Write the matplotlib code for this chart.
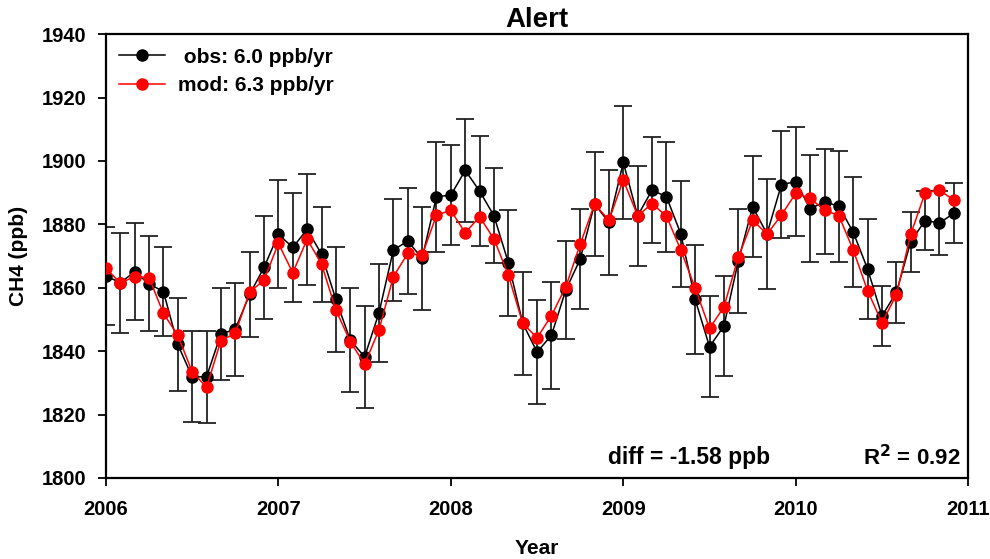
import numpy as np
import matplotlib
matplotlib.use("Agg")
import matplotlib.pyplot as plt

plt.rcParams['font.family'] = ['Liberation Sans', 'DejaVu Sans']
plt.rcParams['font.weight'] = 'bold'

# monthly values, Jan 2006 .. Dec 2010
obs = [1863.7, 1861.6, 1865.0, 1861.2, 1858.8, 1842.1, 1831.9, 1831.9, 1845.4, 1846.9,
       1857.9, 1866.4, 1876.9, 1872.7, 1878.4, 1870.6, 1856.3, 1843.5, 1838.2, 1852.1,
       1871.9, 1874.7, 1869.3, 1888.7, 1889.2, 1897.0, 1890.5, 1882.7, 1867.9, 1848.8,
       1839.7, 1845.0, 1859.3, 1869.0, 1886.4, 1880.6, 1899.5, 1882.7, 1890.8, 1888.7,
       1877.0, 1856.3, 1841.4, 1847.9, 1868.4, 1885.5, 1877.0, 1892.5, 1893.5, 1884.9,
       1887.1, 1885.7, 1877.5, 1865.9, 1851.1, 1858.5, 1874.5, 1881.2, 1880.4, 1883.5]
obs_err = [15.4, 15.8, 15.3, 15.0, 13.9, 14.8, 14.4, 14.5, 14.6, 14.7,
           13.3, 16.2, 17.0, 17.2, 17.5, 15.0, 16.7, 16.3, 16.1, 15.5,
           16.2, 16.7, 16.3, 17.4, 15.7, 16.3, 17.3, 15.0, 16.7, 16.2,
           16.4, 16.9, 15.4, 15.7, 16.5, 16.6, 17.7, 15.8, 16.6, 17.4,
           16.8, 17.1, 16.0, 15.7, 16.4, 15.9, 17.4, 16.9, 17.2, 16.9,
           16.6, 17.5, 17.3, 15.7, 9.4, 9.6, 9.5, 9.2, 10.2, 9.5]
mod = [1866.1, 1861.5, 1863.5, 1863.2, 1851.9, 1845.0, 1833.5, 1828.6, 1843.3, 1845.6,
       1858.6, 1862.4, 1874.0, 1864.7, 1875.3, 1867.5, 1853.0, 1843.0, 1835.9, 1846.7,
       1863.5, 1870.8, 1870.2, 1882.9, 1884.4, 1877.3, 1882.4, 1875.4, 1864.0, 1848.8,
       1844.2, 1851.2, 1860.3, 1873.7, 1886.4, 1881.3, 1894.0, 1882.7, 1886.5, 1882.6,
       1871.9, 1859.9, 1847.2, 1853.9, 1869.6, 1881.3, 1876.9, 1882.9, 1889.8, 1888.2,
       1884.5, 1882.7, 1871.9, 1859.0, 1849.0, 1857.7, 1876.9, 1889.9, 1890.8, 1887.6]

years = 2006 + np.arange(len(obs)) / 12.0

fig = plt.figure(figsize=(9.9, 5.59), dpi=100)
ax = fig.add_axes([0.107, 0.145, 0.871, 0.794])

ax.errorbar(years, obs, yerr=obs_err, fmt='none', ecolor='#222222',
            elinewidth=1.3, capsize=6.5, capthick=1.3, zorder=1)
ax.plot(years, obs, color='black', lw=1.1, marker='o', ms=8,
        label=' obs: 6.0 ppb/yr', zorder=2)
ax.plot(years, mod, color='red', lw=1.1, marker='o', ms=8,
        label='mod: 6.3 ppb/yr', zorder=3)

ax.set_xlim(2006, 2011)
ax.set_ylim(1800, 1940)
ax.set_xticks(np.arange(2006, 2012))
ax.set_yticks(np.arange(1800, 1941, 20))
ax.tick_params(direction='out', length=6, width=1.3, labelsize=14.5)
ax.tick_params(axis='x', pad=10)
ax.tick_params(axis='y', pad=8)
for s in ax.spines.values():
    s.set_linewidth(1.6)
for lab in ax.get_xticklabels() + ax.get_yticklabels():
    lab.set_fontweight('bold')

ax.set_title('Alert', fontsize=20, fontweight='bold', pad=5)
ax.set_xlabel('Year', fontsize=15, fontweight='bold', labelpad=14)
ax.set_ylabel('CH4 (ppb)', fontsize=15, fontweight='bold', labelpad=10)

ax.text(0.676, 0.045, 'diff = -1.58 ppb', transform=ax.transAxes,
        fontsize=16.5, fontweight='bold', ha='center', va='center')
ax.text(0.991, 0.045, r'R$^\mathbf{2}$ = 0.92', transform=ax.transAxes,
        fontsize=16, fontweight='bold', ha='right', va='center')

ax.legend(loc='upper left', frameon=False, handlelength=2.2,
          borderaxespad=0.25, labelspacing=0.45, handletextpad=0.6,
          prop={'weight': 'bold', 'size': 15})

fig.savefig('out.png', dpi=100)
